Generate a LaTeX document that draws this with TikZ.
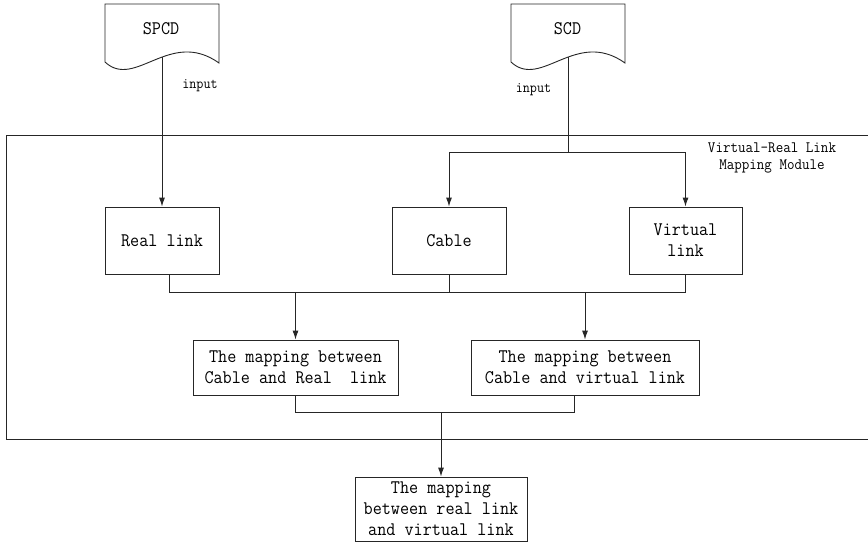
\documentclass[tikz,border=0pt]{standalone}
\usepackage{fontspec}
\setmonofont[FakeStretch=0.92]{Latin Modern Mono}
\renewcommand{\familydefault}{\ttdefault}
\usetikzlibrary{arrows.meta,calc}

\begin{document}
\begin{tikzpicture}[x=1pt,y=-1pt,
  line/.style={draw=black!85, line width=0.9pt},
  arr/.style={line, -{Latex[length=9pt,width=6pt]}},
  box/.style={draw=black!85, line width=0.9pt, fill=white, inner sep=0pt,
              align=center, font=\ttfamily\fontsize{19.2}{21}\selectfont},
  doc/.style={draw=black!85, line width=0.9pt, fill=white},
  big/.style={inner sep=0pt, font=\ttfamily\fontsize{19.2}{21}\selectfont},
  small/.style={inner sep=0pt, font=\ttfamily\fontsize{14.9}{17}\selectfont},
]
\useasboundingbox (0,0) rectangle (868,547);

% module frame (open on the right)
\draw[line] (868,135) -- (6,135) -- (6,439) -- (868,439);
\node[inner sep=0pt, align=center, font=\ttfamily\fontsize{15.9}{17}\selectfont]
  (title) at (772,158) {Virtual-Real Link\\Mapping Module};

% boxes
\node[box, minimum width=114pt, minimum height=67pt] (rl) at (162,240.5) {Real link};
\node[box, minimum width=114pt, minimum height=67pt] (cb) at (449,240.5) {Cable};
\node[box, minimum width=113pt, minimum height=67pt] (vl) at (685.5,240.5) {Virtual\\link};
\node[box, minimum width=205pt, minimum height=55pt] (m1) at (295.5,367.5)
  {The mapping between\\Cable and Real~ link};
\node[box, minimum width=228pt, minimum height=55pt] (m2) at (585,367.5)
  {The mapping between\\Cable and virtual link};
\node[box, minimum width=172pt, minimum height=64pt] (fin) at (441,509)
  {The mapping\\between real link\\and virtual link};

% connector anchors
\coordinate (spcdout) at (162,50);
\coordinate (scdout) at (568,50);
\coordinate (split) at (568,152);
\coordinate (busA) at (0,292);
\coordinate (busB) at (0,412);
\coordinate (rlout) at ($(rl.south)+(7,0)$);
\coordinate (m2out) at ($(m2.south)+(-11,0)$);

% inputs
\draw[arr] (spcdout) -- (rl.north);
\draw[line] (scdout) -- (split);
\draw[arr] (split) -| (cb.north);
\draw[arr] (split) -| (vl.north);

% first bus
\draw[line] (rlout) -- (rlout |- busA) -| (vl.south);
\draw[line] (cb.south) -- (cb.south |- busA);
\draw[arr] (m1.north |- busA) -- (m1.north);
\draw[arr] (m2.north |- busA) -- (m2.north);

% second bus
\draw[line] (m1.south) -- (m1.south |- busB) -- (m2out |- busB) -- (m2out);
\draw[arr] (fin.north |- busB) -- (fin.north);

% documents
\path[doc] (105,62) -- (105,4) -- (219,4) -- (219,63)
  .. controls (170,28) and (135,90) .. (105,62) -- cycle;
\path[doc] (511,62) -- (511,4) -- (625,4) -- (625,63)
  .. controls (576,28) and (541,90) .. (511,62) -- cycle;
\node[big] (spcd) at (161,29) {SPCD};
\node[big] (scd) at (567.5,29) {SCD};
\node[small] (in1) at (200,86) {input};
\node[small] (in2) at (533.5,90) {input};
\end{tikzpicture}
\end{document}
